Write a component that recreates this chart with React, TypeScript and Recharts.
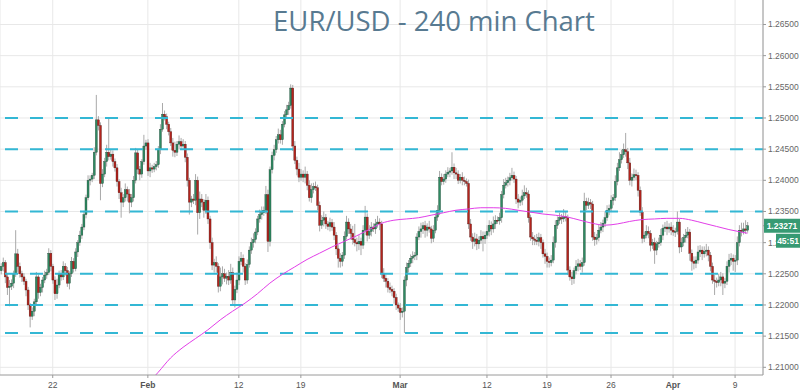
import React from 'react';
import { ComposedChart, Bar, Line, XAxis, YAxis, CartesianGrid, ReferenceLine } from 'recharts';

const chartTitle = 'EUR/USD - 240 min Chart';
const firstOpen = 1.2255;

// 240-minute closes, one per candle (left to right)
const closes = [
  1.2262, 1.2268, 1.2245, 1.2228, 1.2230,
  1.2235, 1.2250, 1.2282, 1.2262, 1.2250,
  1.2245, 1.2238, 1.2224, 1.2200, 1.2182,
  1.2190, 1.2205, 1.2245, 1.2220, 1.2228,
  1.2240, 1.2248, 1.2252, 1.2283, 1.2262,
  1.2240, 1.2218, 1.2232, 1.2250, 1.2245,
  1.2262, 1.2255, 1.2235, 1.2250, 1.2270,
  1.2258, 1.2285, 1.2300, 1.2312, 1.2325,
  1.2345, 1.2372, 1.2400, 1.2402, 1.2408,
  1.2445, 1.2497, 1.2488, 1.2395, 1.2410,
  1.2430, 1.2445, 1.2438, 1.2442, 1.2430,
  1.2420, 1.2398, 1.2380, 1.2365, 1.2372,
  1.2385, 1.2378, 1.2365, 1.2372, 1.2400,
  1.2444, 1.2418, 1.2410, 1.2430, 1.2455,
  1.2460, 1.2415, 1.2420, 1.2418, 1.2422,
  1.2425, 1.2450, 1.2482, 1.2506, 1.2502,
  1.2490, 1.2478, 1.2460, 1.2448, 1.2445,
  1.2458, 1.2462, 1.2455, 1.2458, 1.2437,
  1.2400, 1.2365, 1.2370, 1.2368, 1.2400,
  1.2348, 1.2370, 1.2365, 1.2352, 1.2368,
  1.2338, 1.2300, 1.2264, 1.2268, 1.2262,
  1.2230, 1.2245, 1.2250, 1.2243, 1.2246,
  1.2240, 1.2252, 1.2208, 1.2225, 1.2240,
  1.2270, 1.2275, 1.2262, 1.2240, 1.2265,
  1.2288, 1.2300, 1.2305, 1.2317, 1.2338,
  1.2345, 1.2348, 1.2352, 1.2377, 1.2302,
  1.2417, 1.2440, 1.2449, 1.2465, 1.2473,
  1.2465, 1.2490, 1.2505, 1.2513, 1.2520,
  1.2548, 1.2455, 1.2432, 1.2418, 1.2405,
  1.2410, 1.2405, 1.2410, 1.2392, 1.2372,
  1.2385, 1.2390, 1.2388, 1.2360, 1.2328,
  1.2336, 1.2340, 1.2330, 1.2326, 1.2332,
  1.2325, 1.2312, 1.2290, 1.2275, 1.2270,
  1.2280, 1.2310, 1.2333, 1.2322, 1.2315,
  1.2305, 1.2300, 1.2298, 1.2302, 1.2296,
  1.2320, 1.2341, 1.2312, 1.2318, 1.2325,
  1.2322, 1.2330, 1.2333, 1.2330, 1.2251,
  1.2243, 1.2238, 1.2228, 1.2225, 1.2222,
  1.2212, 1.2200, 1.2195, 1.2188, 1.2190,
  1.2240, 1.2260, 1.2267, 1.2275, 1.2278,
  1.2280, 1.2309, 1.2318, 1.2322, 1.2327,
  1.2320, 1.2325, 1.2322, 1.2307, 1.2320,
  1.2341, 1.2352, 1.2405, 1.2398, 1.2402,
  1.2410, 1.2413, 1.2415, 1.2421, 1.2412,
  1.2410, 1.2400, 1.2405, 1.2400, 1.2398,
  1.2395, 1.2330, 1.2309, 1.2302, 1.2306,
  1.2298, 1.2304, 1.2310, 1.2306, 1.2312,
  1.2318, 1.2328, 1.2322, 1.2330, 1.2336,
  1.2335, 1.2340, 1.2377, 1.2392, 1.2396,
  1.2400, 1.2404, 1.2408, 1.2402, 1.2370,
  1.2365, 1.2368, 1.2375, 1.2380, 1.2378,
  1.2340, 1.2309, 1.2306, 1.2304, 1.2302,
  1.2308, 1.2300, 1.2282, 1.2278, 1.2270,
  1.2268, 1.2272, 1.2300, 1.2328, 1.2336,
  1.2340, 1.2338, 1.2342, 1.2340, 1.2256,
  1.2245, 1.2242, 1.2255, 1.2262, 1.2266,
  1.2262, 1.2268, 1.2366, 1.2360, 1.2364,
  1.2362, 1.2309, 1.2305, 1.2308, 1.2320,
  1.2325, 1.2331, 1.2340, 1.2352, 1.2355,
  1.2368, 1.2372, 1.2398, 1.2420, 1.2433,
  1.2441, 1.2449, 1.2446, 1.2428, 1.2400,
  1.2405, 1.2409, 1.2408, 1.2384, 1.2349,
  1.2307, 1.2312, 1.2318, 1.2315, 1.2296,
  1.2300, 1.2288, 1.2298, 1.2300, 1.2312,
  1.2323, 1.2325, 1.2322, 1.2325, 1.2320,
  1.2317, 1.2318, 1.2333, 1.2293, 1.2300,
  1.2308, 1.2312, 1.2317, 1.2283, 1.2270,
  1.2267, 1.2272, 1.2285, 1.2288, 1.2282,
  1.2286, 1.2288, 1.2280, 1.2262, 1.2240,
  1.2238, 1.2236, 1.2240, 1.2245, 1.2235,
  1.2238, 1.2262, 1.2272, 1.2275, 1.2270,
  1.2272, 1.2300, 1.2320, 1.2318, 1.2322,
  1.2320, 1.23271,
];

// wick lengths beyond the body, in pips
const upperWickPips = [
  5, 8, 4, 6, 10, 6, 5, 38, 8, 6, 5, 6, 4, 5, 3, 6, 5, 8, 4, 6,
  5, 7, 6, 8, 5, 4, 6, 10, 5, 6, 8, 5, 6, 4, 7, 5, 6, 4, 7, 5,
  6, 5, 8, 6, 4, 8, 40, 6, 5, 8, 6, 12, 55, 8, 6, 5, 6, 4, 8, 6,
  10, 5, 8, 6, 7, 8, 6, 5, 4, 18, 5, 6, 8, 5, 6, 6, 5, 8, 18, 6,
  5, 4, 6, 8, 14, 5, 10, 6, 8, 5, 6, 4, 5, 8, 10, 6, 12, 8, 5, 10,
  6, 5, 8, 6, 10, 5, 15, 12, 8, 6, 10, 14, 8, 6, 12, 8, 10, 6, 5, 8,
  6, 8, 10, 6, 5, 8, 10, 6, 14, 8, 5, 6, 8, 6, 10, 8, 5, 6, 8, 6,
  6, 5, 8, 6, 10, 8, 6, 12, 5, 8, 10, 6, 8, 5, 6, 8, 10, 6, 5, 8,
  6, 8, 5, 6, 8, 5, 8, 10, 6, 8, 12, 25, 8, 10, 6, 8, 18, 6, 10, 8,
  6, 8, 10, 6, 5, 8, 6, 5, 8, 6, 5, 6, 4, 8, 6, 6, 8, 5, 6, 8,
  5, 6, 8, 10, 6, 8, 6, 10, 5, 8, 6, 8, 10, 6, 8, 6, 8, 5, 24, 6,
  8, 6, 5, 8, 6, 5, 6, 8, 6, 10, 8, 6, 10, 8, 6, 10, 8, 6, 12, 8,
  6, 8, 6, 10, 8, 6, 8, 12, 6, 5, 8, 6, 10, 12, 8, 6, 5, 8, 6, 10,
  8, 6, 5, 8, 6, 6, 8, 10, 8, 6, 8, 6, 12, 8, 5, 6, 8, 5, 10, 8,
  6, 8, 14, 6, 8, 6, 5, 8, 6, 10, 8, 6, 10, 8, 6, 8, 6, 10, 8, 12,
  8, 10, 27, 6, 8, 6, 10, 8, 5, 6, 8, 6, 10, 8, 5, 6, 8, 5, 8, 10,
  6, 8, 10, 6, 8, 8, 6, 17, 5, 8, 6, 10, 8, 5, 6, 8, 6, 10, 8, 6,
  8, 10, 6, 5, 6, 8, 6, 10, 8, 6, 5, 8, 10, 8, 6, 8, 10, 8, 12, 10,
  14, 6,
];

const lowerWickPips = [
  6, 8, 10, 12, 30, 6, 8, 5, 10, 6, 8, 6, 10, 8, 18, 6, 8, 5, 10, 6,
  8, 5, 6, 4, 8, 6, 10, 8, 5, 6, 5, 8, 6, 10, 5, 6, 4, 8, 5, 6,
  5, 6, 4, 8, 5, 6, 5, 8, 27, 6, 5, 8, 6, 5, 8, 6, 8, 10, 25, 8,
  6, 12, 18, 8, 6, 5, 8, 10, 6, 5, 6, 8, 10, 6, 5, 6, 5, 8, 4, 6,
  8, 6, 5, 10, 8, 6, 8, 5, 6, 8, 10, 20, 8, 6, 8, 35, 10, 8, 12, 6,
  8, 10, 8, 12, 10, 10, 8, 12, 6, 10, 8, 6, 8, 12, 6, 8, 6, 10, 8, 6,
  5, 6, 8, 6, 5, 6, 8, 5, 6, 17, 8, 6, 8, 5, 6, 6, 8, 5, 6, 8,
  5, 8, 6, 10, 8, 6, 8, 10, 8, 6, 8, 6, 5, 8, 10, 6, 10, 8, 6, 8,
  6, 8, 10, 15, 10, 8, 6, 5, 8, 10, 8, 6, 12, 10, 16, 6, 8, 10, 6, 8,
  5, 8, 6, 10, 8, 6, 10, 8, 6, 8, 10, 8, 6, 12, 8, 35, 10, 8, 6, 8,
  6, 8, 5, 10, 8, 12, 10, 6, 8, 6, 5, 6, 8, 6, 5, 6, 5, 8, 6, 10,
  8, 6, 5, 8, 6, 5, 8, 6, 12, 8, 10, 8, 6, 20, 8, 6, 8, 10, 6, 8,
  5, 6, 8, 6, 5, 6, 8, 5, 6, 8, 10, 6, 8, 5, 6, 8, 6, 10, 8, 6,
  8, 10, 6, 12, 10, 8, 6, 5, 8, 6, 6, 8, 5, 6, 8, 6, 10, 8, 6, 8,
  6, 10, 5, 8, 6, 8, 6, 10, 8, 6, 5, 8, 6, 5, 8, 6, 8, 5, 6, 5,
  6, 5, 8, 10, 8, 10, 6, 8, 10, 6, 8, 6, 5, 8, 10, 6, 22, 8, 6, 5,
  8, 6, 10, 6, 8, 6, 8, 5, 10, 8, 6, 8, 5, 12, 15, 10, 8, 6, 8, 10,
  6, 8, 10, 8, 6, 22, 8, 6, 10, 19, 8, 6, 10, 8, 15, 17, 8, 6, 8, 5,
  6, 4,
];

// moving average (magenta), sampled at candle indices
const maIndex = [70, 76, 82, 88, 94, 100, 106, 112, 118, 124, 130, 136, 142, 148, 154, 160, 166, 172, 178, 184,
  190, 196, 202, 208, 214, 220, 226, 232, 238, 244, 250, 256, 262, 268, 274, 280, 286, 292, 298, 304,
  310, 316, 322, 328, 334, 340, 346, 352, 358, 361];
const maValues = [1.2070, 1.2092, 1.2115, 1.2132, 1.2146, 1.2160, 1.2176, 1.2190, 1.2203, 1.2218,
  1.2235, 1.2249, 1.2261, 1.2273, 1.2283, 1.2293, 1.2302, 1.2311, 1.2321, 1.2331,
  1.2336, 1.2338, 1.2340, 1.2344, 1.2348, 1.2352, 1.2354, 1.2356, 1.2356, 1.2355,
  1.2352, 1.2349, 1.2346, 1.2344, 1.2341, 1.2336, 1.2331, 1.2328, 1.2330, 1.2334,
  1.2337, 1.2338, 1.2339, 1.2339, 1.2336, 1.2331, 1.2326, 1.2321, 1.2317, 1.2315];

const tickIndex = [25, 71, 115, 145, 193, 235, 264, 295, 325, 355];
const tickLabels = ['22', 'Feb', '12', '19', 'Mar', '12', '19', '26', 'Apr', '9'];
const monthLabels = ['Feb', 'Mar', 'Apr'];
const levelLines = [1.25, 1.245, 1.235, 1.225, 1.22, 1.2155];
const priceTicks = [1.21, 1.215, 1.22, 1.225, 1.23, 1.235, 1.24, 1.245, 1.25, 1.255, 1.26, 1.265];
const timerText = '45:51';
const slotCount = 369;
const lastPrice = closes[closes.length - 1];
const priceDomain = [1.208765, 1.268929];
// the last-price tag is rendered as the final tick so it sits on top of the labels
const yTicks = [...priceTicks, lastPrice];

const data: any[] = Array.from({ length: slotCount }, (_, i) => {
  if (i >= closes.length) return { i };
  const o = i === 0 ? firstOpen : closes[i - 1];
  const c = closes[i];
  const h = Math.max(o, c) + upperWickPips[i] / 10000;
  const l = Math.min(o, c) - lowerWickPips[i] / 10000;
  return { i, o, c, h, l, range: [l, h] };
});
maIndex.forEach((idx, k) => {
  data[idx].ma = maValues[k];
});

const FONT = '"Liberation Sans", Arial, sans-serif';

const Candle = (props: any) => {
  const { x, y, width, height, payload } = props;
  if (!payload || payload.c == null || !isFinite(y) || !isFinite(height)) return null;
  const { o, c, h, l } = payload;
  const yTop = Math.min(y, y + height);
  const span = Math.abs(height);
  const cx = x + width / 2;
  const ppu = h - l > 0 ? span / (h - l) : 0;
  const yO = yTop + (h - o) * ppu;
  const yC = yTop + (h - c) * ppu;
  const up = c >= o;
  const bTop = Math.min(yO, yC);
  const bH = Math.max(1, Math.abs(yO - yC));
  return (
    <g>
      <line x1={cx} x2={cx} y1={yTop} y2={yTop + span} stroke="#a9a9a9" strokeWidth={1} />
      <rect x={cx - 1} y={bTop} width={2} height={bH}
        fill={up ? '#2e8a62' : '#b3241d'} stroke={up ? '#1f3f30' : '#4a1512'} strokeWidth={0.35} />
    </g>
  );
};

const XTick = (props: any) => {
  const { x, y, payload } = props;
  const k = tickIndex.indexOf(payload.value);
  const label = k >= 0 ? tickLabels[k] : '';
  const bold = monthLabels.includes(label);
  return (
    <text x={x} y={y + 8} textAnchor="middle" fontSize={8.5} fontFamily={FONT}
      fontWeight={bold ? 700 : 400} fill="#555">{label}</text>
  );
};

const YTick = (props: any) => {
  const { x, y, payload, index } = props;
  const v = payload.value;
  if (index === yTicks.length - 1) {
    const left = x - 4;
    return (
      <g>
        <rect x={left} y={y - 7} width={800 - left} height={14} fill="#379a73" />
        <text x={left + 18} y={y + 3} textAnchor="middle" fontSize={8.5} fontWeight={700}
          fontFamily={FONT} fill="#fff">{v.toFixed(5)}</text>
        <rect x={left + 12} y={y + 8} width={800 - left - 12} height={14} fill="#379a73" />
        <text x={left + 24} y={y + 18} textAnchor="middle" fontSize={8.5} fontWeight={700}
          fontFamily={FONT} fill="#fff">{timerText}</text>
      </g>
    );
  }
  return (
    <text x={x} y={y + 3} textAnchor="start" fontSize={8.5} fontFamily={FONT} fill="#666">{v.toFixed(5)}</text>
  );
};

export default function App() {
  return (
    <div style={{ position: 'absolute', left: 0, top: 0, width: 800, height: 390, background: '#fff' }}>
      <ComposedChart width={800} height={390} data={data} margin={{ top: 0, right: 0, bottom: 0, left: 0 }}>
        <CartesianGrid stroke="#e8e8e8" strokeWidth={1} horizontalValues={priceTicks} />
        <XAxis dataKey="i" type="category" ticks={tickIndex} interval={0} height={15}
          axisLine={{ stroke: '#9a9a9a' }} tickLine={{ stroke: '#9a9a9a' }} tickSize={3}
          tick={<XTick />} />
        <YAxis orientation="right" width={37} domain={priceDomain} allowDataOverflow
          ticks={yTicks} interval={0} type="number"
          axisLine={{ stroke: '#9a9a9a' }} tickLine={{ stroke: '#9a9a9a' }} tickSize={3}
          tick={<YTick />} />
        {levelLines.map((v) => (
          <ReferenceLine key={v} y={v} stroke="#33b7d4" strokeWidth={2} strokeDasharray="13 12"
            strokeDashoffset={5} ifOverflow="visible" />
        ))}
        <Bar dataKey="range" shape={<Candle />} isAnimationActive={false} />
        <Line dataKey="ma" stroke="#e23ee8" strokeWidth={1} dot={false} connectNulls type="monotone"
          isAnimationActive={false} />
      </ComposedChart>
      <svg width={800} height={50} style={{ position: 'absolute', left: 0, top: 0, pointerEvents: 'none' }}>
        <text x={434} y={31} textAnchor="middle" fontSize={27.5} fontFamily='"Open Sans", "Liberation Sans", sans-serif'
          fill="#587a91">{chartTitle}</text>
      </svg>
    </div>
  );
}
